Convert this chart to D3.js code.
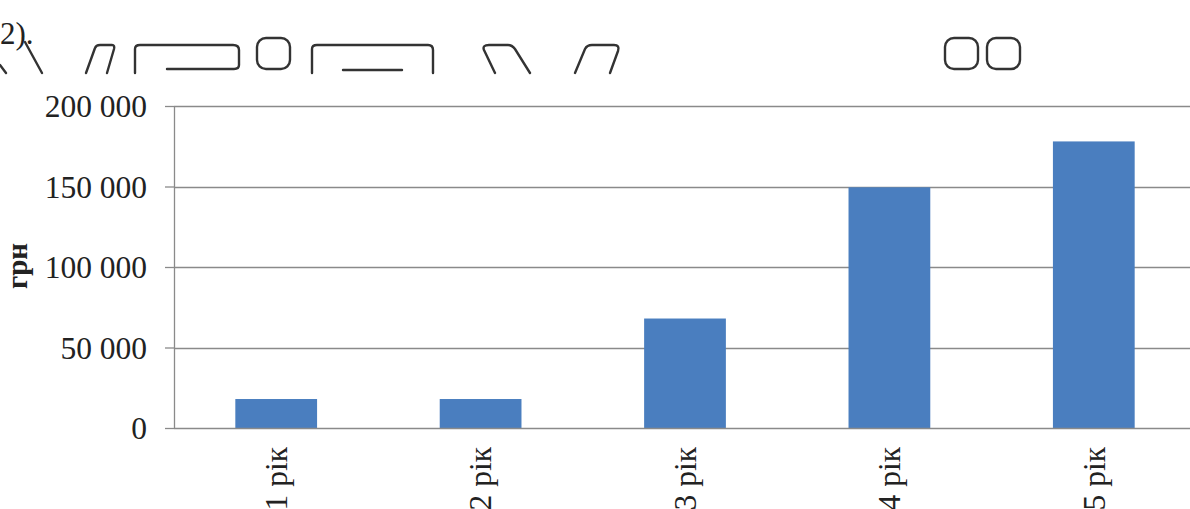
<!DOCTYPE html>
<html>
<head>
<meta charset="utf-8">
<script src="https://cdn.jsdelivr.net/npm/d3@7"></script>
<style>
  body { margin: 0; background: #fff; overflow: hidden; }
  text { font-family: "Liberation Serif", "Times New Roman", serif; }
</style>
</head>
<body>
<div id="chart"></div>
<script>

// DATA
var years = ["1 рік", "2 рік", "3 рік", "4 рік", "5 рік"]
var amounts = [18000, 18000, 68000, 149500, 178000]
var yTicks = [0, 50000, 100000, 150000, 200000]
var yLabel = "грн"
var titleText = "2)."

// SIZE
var W = 1190, H = 509
var margin = {top: 106, right: -6, bottom: 81, left: 174}
var width = W - margin.left - margin.right,
    height = H - margin.top - margin.bottom

var svg = d3.select("#chart").append("svg")
    .attr("width", W)
    .attr("height", H)

// number format "200 000"
var uk = d3.formatLocale({decimal: ",", thousands: " ", grouping: [3], currency: ["", ""]})
var fmt = uk.format(",d")

var x = d3.scaleBand()
    .domain(years)
    .range([0, width])
    .paddingInner(0.6)
    .paddingOuter(0.3)

var y = d3.scaleLinear()
    .domain([0, 200000])
    .range([height, 0])

var g = svg.append("g")
    .attr("transform", "translate(" + margin.left + "," + margin.top + ")")

// GRIDLINES
g.selectAll(".grid")
    .data(yTicks.slice(1))
    .enter()
    .append("line")
    .attr("x1", 0)
    .attr("x2", width)
    .attr("y1", d => Math.round(y(d)) + 0.5)
    .attr("y2", d => Math.round(y(d)) + 0.5)
    .attr("stroke", "#8a8a8a")
    .attr("stroke-width", 1.3)

// BARS
g.selectAll("rect")
    .data(amounts)
    .enter()
    .append("rect")
    .attr("x", (d, i) => x(years[i]))
    .attr("width", x.bandwidth())
    .attr("y", d => y(d))
    .attr("height", d => height - y(d))
    .attr("fill", "#4a7ebf")

// Y AXIS
var yAxis = g.append("g")
    .call(d3.axisLeft(y).tickValues(yTicks).tickFormat(fmt).tickSize(9).tickPadding(18))
yAxis.selectAll("path, line").attr("stroke", "#8a8a8a").attr("stroke-width", 1.3)
yAxis.select(".domain").attr("d", "M0.5," + height + "V0")
yAxis.selectAll(".tick text")
    .attr("fill", "#222")
    .style("font-family", '"Liberation Serif", serif')
    .style("font-size", "31.5px")
    .attr("dy", "0.34em")

// X AXIS
var xAxis = g.append("g")
    .attr("transform", "translate(0," + height + ")")
    .call(d3.axisBottom(x).tickSize(0).tickPadding(0))
xAxis.select(".domain").attr("stroke", "#8a8a8a").attr("stroke-width", 1.3)
    .attr("d", "M0,0.5H" + width)
xAxis.selectAll(".tick text")
    .attr("fill", "#222")
    .style("font-family", '"Liberation Serif", serif')
    .style("font-size", "31.5px")
    .attr("text-anchor", "end")
    .attr("transform", "rotate(-90)")
    .attr("x", -19)
    .attr("y", 0)
    .attr("dy", "0.34em")

// Y LABEL
svg.append("text")
    .attr("transform", "translate(27," + 266 + ") rotate(-90)")
    .attr("text-anchor", "middle")
    .style("font-size", "29px")
    .style("font-weight", "bold")
    .attr("fill", "#222")
    .text(yLabel)

// TITLE (number, then broken glyph outlines as in the scan)
svg.append("text")
    .attr("x", 0)
    .attr("y", 44)
    .style("font-size", "31px")
    .attr("fill", "#222")
    .text(titleText)

var glyphs = [
  "M0,65 L6,73",
  "M25,42 L42,73",
  "M86,73 L95,48 Q96,45 100,45 L112,45 Q115,45 114,49 L107,73",
  "M135,73 L135,49 Q135,45 140,45 L233,45 Q239,45 239,50 L239,65 Q239,69 234,69 L167,69",
  "M312,73 L312,49 Q312,45 317,45 L428,45 Q433,45 433,50 L433,73",
  "M343,70 L402,70",
  "M495,73 L484,50 Q482,45 489,45 L508,45 Q512,45 515,49 L530,73",
  "M575,73 L585,49 Q587,45 592,45 L614,45 Q620,45 618,51 L610,73"
]
svg.selectAll(".glyph")
    .data(glyphs)
    .enter()
    .append("path")
    .attr("d", d => d)
    .attr("fill", "none")
    .attr("stroke", "#333")
    .attr("stroke-width", 2.4)
    .attr("stroke-linecap", "round")

var boxes = [[257, 38], [945, 38], [987, 38]]
svg.selectAll(".box")
    .data(boxes)
    .enter()
    .append("rect")
    .attr("x", d => d[0])
    .attr("y", d => d[1])
    .attr("width", 33)
    .attr("height", 31)
    .attr("rx", 9)
    .attr("fill", "none")
    .attr("stroke", "#333")
    .attr("stroke-width", 2.4)

</script>
</body>
</html>
